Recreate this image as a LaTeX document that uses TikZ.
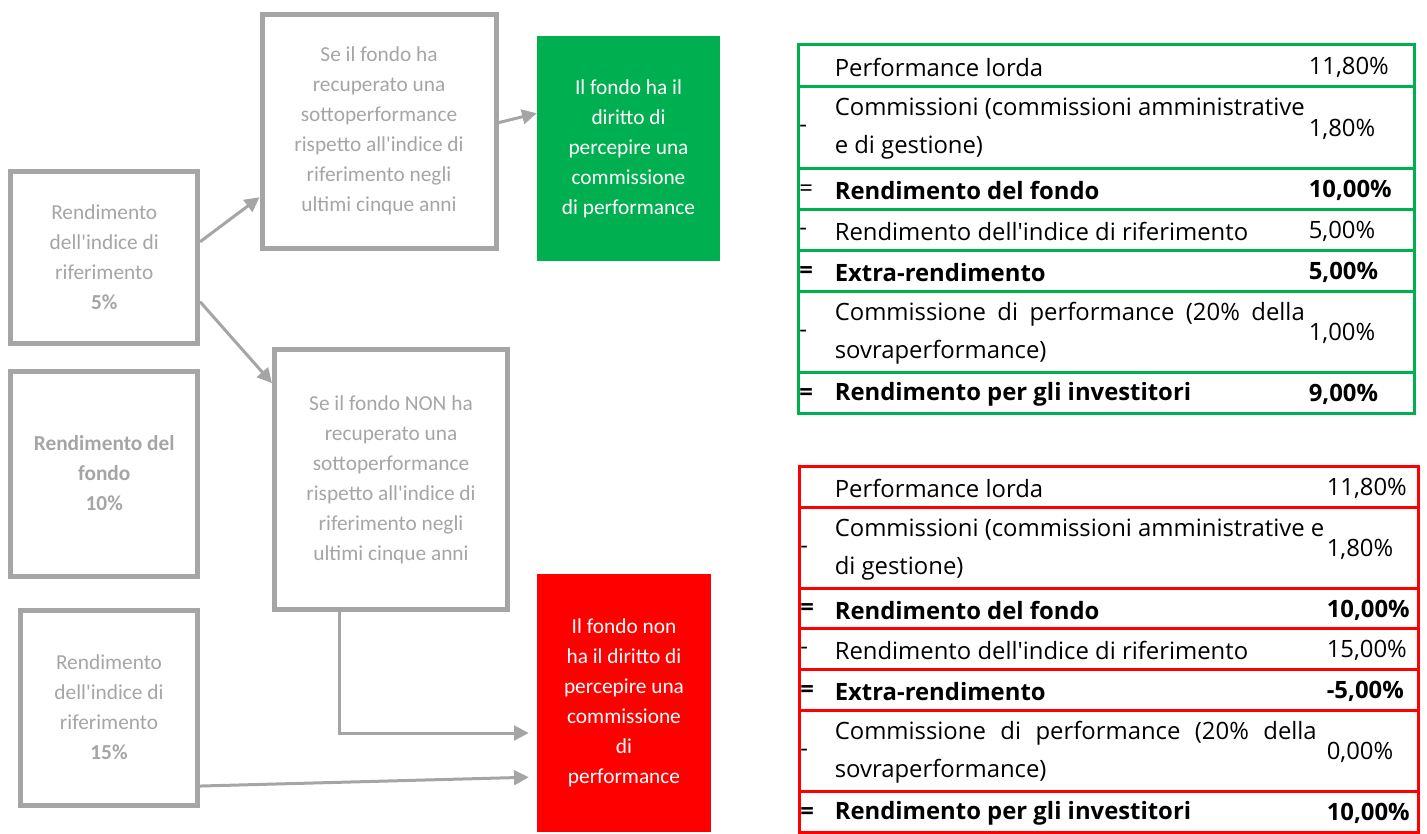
\documentclass[tikz,border=0pt]{standalone}
\usepackage{fontspec}
\setmainfont{Carlito}
\newfontfamily\tabfont{Open Sans}
\usetikzlibrary{arrows.meta}
\definecolor{boxgray}{HTML}{A5A5A5}
\definecolor{fundgreen}{HTML}{00B050}
\definecolor{fundred}{HTML}{FF0000}

\begin{document}
\begin{tikzpicture}[
		x=0.75pt, y=-0.75pt,
		box/.style={draw=boxgray, line width=3.75pt, text=boxgray, align=center, inner sep=0pt, font=\fontsize{16}{22.5}\selectfont},
		verdict/.style={text=white, align=center, inner sep=0pt, font=\fontsize{16}{22.5}\selectfont},
		link/.style={draw=boxgray, line width=2.25pt, -{Triangle[length=11pt, width=11pt]}},
		row/.style={draw, line width=2.25pt, inner sep=0pt},
		cell/.style={anchor=west, inner sep=0pt, yshift=-1.5pt, align=left, font=\tabfont\fontsize{17.9}{28.5}\selectfont},
		sign/.style={cell, xshift=2pt},
	]
		\useasboundingbox (0,0) rectangle (1427,833);

		% left column
		\node (bench5) [box, minimum width=139.9pt, minimum height=129pt] at (104.25,257) {Rendimento\\dell\textquotesingle{}indice di\\riferimento\\\textbf{5\%}};
		\node (fund) [box, minimum width=139.9pt, minimum height=153.75pt] at (104.25,473.5) {\textbf{Rendimento del}\\\textbf{fondo}\\\textbf{10\%}};
		\node (bench15) [box, minimum width=132.75pt, minimum height=146.25pt] at (109,707.5) {Rendimento\\dell\textquotesingle{}indice di\\riferimento\\\textbf{15\%}};

		% conditions
		\node (recovered) [box, minimum width=175.5pt, minimum height=175.5pt] at (379,131) {Se il fondo ha\\recuperato una\\sottoperformance\\rispetto all\textquotesingle{}indice di\\riferimento negli\\ultimi cinque anni};
		\node (notrecovered) [box, minimum width=174.75pt, minimum height=195pt] at (391,479.5) {Se il fondo NON ha\\recuperato una\\sottoperformance\\rispetto all\textquotesingle{}indice di\\riferimento negli\\ultimi cinque anni};

		% outcomes
		\node (fee) [verdict, fill=fundgreen, minimum width=137.25pt, minimum height=168.75pt] at (628.5,148.5) {Il fondo ha il\\diritto di\\percepire una\\commissione\\di performance};
		\node (nofee) [verdict, fill=fundred, minimum width=130.5pt, minimum height=193.5pt] at (624,703) {Il fondo non\\ha il diritto di\\percepire una\\commissione\\di\\performance};

		\draw[link] (bench5.9) -- (recovered.209);
		\draw[link] (bench5.-25) -- (notrecovered.141);
		\draw[link] (recovered.4) -- (fee.159);
		\draw[link, shorten >=6pt] ([xshift=-39pt]notrecovered.south) |- ([yshift=-22.5pt]nofee.west);
		\draw[link, shorten >=6pt] ([yshift=-58.9pt]bench15.east) -- ([yshift=-55.5pt]nofee.west);

		% green table
		\node (g1) [row, draw=fundgreen, minimum width=462pt, minimum height=31.5pt] at (1106,65) {};
		\node (g2) [row, draw=fundgreen, minimum width=462pt, minimum height=61.5pt] at (1106,127) {};
		\node (g3) [row, draw=fundgreen, minimum width=462pt, minimum height=30.75pt] at (1106,188.5) {};
		\node (g4) [row, draw=fundgreen, minimum width=462pt, minimum height=30.75pt] at (1106,229.5) {};
		\node (g5) [row, draw=fundgreen, minimum width=462pt, minimum height=30.75pt] at (1106,270.5) {};
		\node (g6) [row, draw=fundgreen, minimum width=462pt, minimum height=60.75pt] at (1106,331.5) {};
		\node (g7) [row, draw=fundgreen, minimum width=462pt, minimum height=30.75pt] at (1106,392.5) {};

		\node (g1t) [cell] at ([xshift=28.5pt]g1.west) {Performance lorda};
		\node (g1v) [cell] at ([xshift=384pt]g1.west) {11,80\%};
		\node (g2s) [sign] at (g2.west) {-};
		\node (g2t) [cell] at ([xshift=28.5pt]g2.west) {Commissioni (commissioni amministrative\\e di gestione)};
		\node (g2v) [cell] at ([xshift=384pt]g2.west) {1,80\%};
		\node (g3s) [sign] at (g3.west) {=};
		\node (g3t) [cell] at ([xshift=28.5pt]g3.west) {\textbf{Rendimento del fondo}};
		\node (g3v) [cell] at ([xshift=384pt]g3.west) {\textbf{10,00\%}};
		\node (g4s) [sign] at (g4.west) {-};
		\node (g4t) [cell] at ([xshift=28.5pt]g4.west) {Rendimento dell'indice di riferimento};
		\node (g4v) [cell] at ([xshift=384pt]g4.west) {5,00\%};
		\node (g5s) [sign] at (g5.west) {\textbf{=}};
		\node (g5t) [cell] at ([xshift=28.5pt]g5.west) {\textbf{Extra-rendimento}};
		\node (g5v) [cell] at ([xshift=384pt]g5.west) {\textbf{5,00\%}};
		\node (g6s) [sign] at (g6.west) {-};
		\node (g6t) [cell] at ([xshift=28.5pt]g6.west) {\makebox[352.5pt][s]{Commissione di performance (20\% della}\\sovraperformance)};
		\node (g6v) [cell] at ([xshift=384pt]g6.west) {1,00\%};
		\node (g7s) [sign] at (g7.west) {\textbf{=}};
		\node (g7t) [cell] at ([xshift=28.5pt]g7.west) {\textbf{Rendimento per gli investitori}};
		\node (g7v) [cell] at ([xshift=384pt]g7.west) {\textbf{9,00\%}};

		% red table
		\node (r1) [row, draw=fundred, minimum width=464.25pt, minimum height=30.75pt] at (1108.5,486.5) {};
		\node (r2) [row, draw=fundred, minimum width=464.25pt, minimum height=60.75pt] at (1108.5,547.5) {};
		\node (r3) [row, draw=fundred, minimum width=464.25pt, minimum height=30pt] at (1108.5,608) {};
		\node (r4) [row, draw=fundred, minimum width=464.25pt, minimum height=30.75pt] at (1108.5,648.5) {};
		\node (r5) [row, draw=fundred, minimum width=464.25pt, minimum height=30.75pt] at (1108.5,689.5) {};
		\node (r6) [row, draw=fundred, minimum width=464.25pt, minimum height=60.75pt] at (1108.5,750.5) {};
		\node (r7) [row, draw=fundred, minimum width=464.25pt, minimum height=30.75pt] at (1108.5,811.5) {};

		\node (r1t) [cell] at ([xshift=27.75pt]r1.west) {Performance lorda};
		\node (r1v) [cell] at ([xshift=396.75pt]r1.west) {11,80\%};
		\node (r2s) [sign] at (r2.west) {-};
		\node (r2t) [cell] at ([xshift=27.75pt]r2.west) {Commissioni (commissioni amministrative e\\di gestione)};
		\node (r2v) [cell] at ([xshift=396.75pt]r2.west) {1,80\%};
		\node (r3s) [sign] at (r3.west) {\textbf{=}};
		\node (r3t) [cell] at ([xshift=27.75pt]r3.west) {\textbf{Rendimento del fondo}};
		\node (r3v) [cell] at ([xshift=396.75pt]r3.west) {\textbf{10,00\%}};
		\node (r4s) [sign] at (r4.west) {-};
		\node (r4t) [cell] at ([xshift=27.75pt]r4.west) {Rendimento dell'indice di riferimento};
		\node (r4v) [cell] at ([xshift=396.75pt]r4.west) {15,00\%};
		\node (r5s) [sign] at (r5.west) {\textbf{=}};
		\node (r5t) [cell] at ([xshift=27.75pt]r5.west) {\textbf{Extra-rendimento}};
		\node (r5v) [cell] at ([xshift=396.75pt]r5.west) {\textbf{-5,00\%}};
		\node (r6s) [sign] at (r6.west) {-};
		\node (r6t) [cell] at ([xshift=27.75pt]r6.west) {\makebox[361.5pt][s]{Commissione di performance (20\% della}\\sovraperformance)};
		\node (r6v) [cell] at ([xshift=396.75pt]r6.west) {0,00\%};
		\node (r7s) [sign] at (r7.west) {\textbf{=}};
		\node (r7t) [cell] at ([xshift=27.75pt]r7.west) {\textbf{Rendimento per gli investitori}};
		\node (r7v) [cell] at ([xshift=396.75pt]r7.west) {\textbf{10,00\%}};
	\end{tikzpicture}
\end{document}
